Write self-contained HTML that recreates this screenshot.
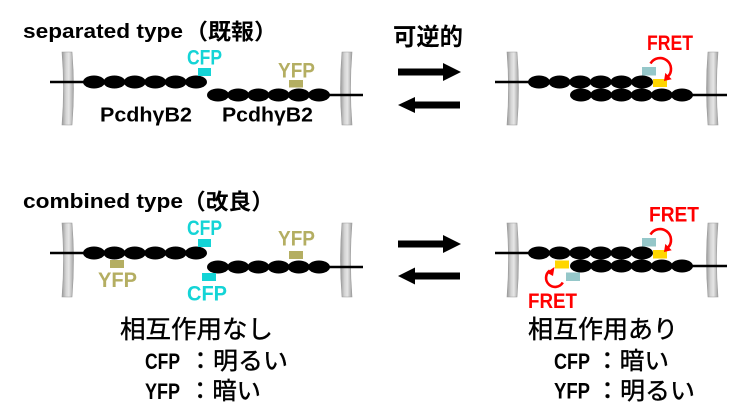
<!DOCTYPE html>
<html><head><meta charset="utf-8">
<style>html,body{margin:0;padding:0;background:#fff;}svg{display:block}</style></head>
<body>
<svg width="751" height="417" viewBox="0 0 751 417" xmlns="http://www.w3.org/2000/svg">
<defs>
<linearGradient id="wg" x1="0" x2="1" y1="0" y2="0">
<stop offset="0" stop-color="#9a9a9a"/>
<stop offset="0.35" stop-color="#d4d4d4"/>
<stop offset="0.6" stop-color="#e6e6e6"/>
<stop offset="1" stop-color="#a2a2a2"/>
</linearGradient>
</defs>
<rect width="751" height="417" fill="#fff"/>

<!-- Titles -->
<g font-family="'Liberation Sans', sans-serif" font-weight="bold" fill="#000">
<text x="23" y="38" font-size="20" textLength="160" lengthAdjust="spacingAndGlyphs">separated type</text>
<text x="23" y="208" font-size="20" textLength="160" lengthAdjust="spacingAndGlyphs">combined type</text>
</g>
<g font-family="'Liberation Sans','Noto Sans CJK JP', sans-serif" font-weight="bold" fill="#000">
<text x="185" y="39.5" font-size="22" textLength="92" lengthAdjust="spacingAndGlyphs">（既報）</text>
<text x="183" y="209.5" font-size="22" textLength="91" lengthAdjust="spacingAndGlyphs">（改良）</text>
<text x="393" y="45" font-size="24" textLength="70" lengthAdjust="spacingAndGlyphs">可逆的</text>
</g>

<!-- Walls -->
<g fill="url(#wg)" stroke="#9a9a9a" stroke-width="0.6">
<path d="M62,52 Q65,88 62,125 L72,125 Q75,88 72,52 Z"/>
<path d="M342,52 Q339,88 342,125 L352,125 Q349,88 352,52 Z"/>
<path d="M507,52 Q510,88 507,125 L517,125 Q520,88 517,52 Z"/>
<path d="M708,52 Q705,88 708,125 L718,125 Q715,88 718,52 Z"/>
<path d="M62,223 Q65,260 62,297 L72,297 Q75,260 72,223 Z"/>
<path d="M342,223 Q339,260 342,297 L352,297 Q349,260 352,223 Z"/>
<path d="M507,223 Q510,260 507,297 L517,297 Q520,260 517,223 Z"/>
<path d="M708,223 Q705,260 708,297 L718,297 Q715,260 718,223 Z"/>
</g>

<!-- Lines -->
<g stroke="#000" stroke-width="2.5">
<line x1="50" y1="82" x2="94" y2="82"/>
<line x1="319" y1="95" x2="363" y2="95"/>
<line x1="50" y1="253" x2="94" y2="253"/>
<line x1="319" y1="267" x2="363" y2="267"/>
<line x1="495" y1="82" x2="539" y2="82"/>
<line x1="682" y1="95" x2="727" y2="95"/>
<line x1="495" y1="253" x2="539" y2="253"/>
<line x1="682" y1="266" x2="727" y2="266"/>
</g>

<!-- Ellipses -->
<g fill="#000">
<ellipse cx="94" cy="82" rx="11" ry="6.5"/><ellipse cx="114.4" cy="82" rx="11" ry="6.5"/><ellipse cx="134.8" cy="82" rx="11" ry="6.5"/><ellipse cx="155.2" cy="82" rx="11" ry="6.5"/><ellipse cx="175.6" cy="82" rx="11" ry="6.5"/><ellipse cx="196" cy="82" rx="11" ry="6.5"/>
<ellipse cx="218" cy="95" rx="11" ry="6.5"/><ellipse cx="238.2" cy="95" rx="11" ry="6.5"/><ellipse cx="258.4" cy="95" rx="11" ry="6.5"/><ellipse cx="278.6" cy="95" rx="11" ry="6.5"/><ellipse cx="298.8" cy="95" rx="11" ry="6.5"/><ellipse cx="319" cy="95" rx="11" ry="6.5"/>
<ellipse cx="94" cy="253" rx="11" ry="6.5"/><ellipse cx="114.4" cy="253" rx="11" ry="6.5"/><ellipse cx="134.8" cy="253" rx="11" ry="6.5"/><ellipse cx="155.2" cy="253" rx="11" ry="6.5"/><ellipse cx="175.6" cy="253" rx="11" ry="6.5"/><ellipse cx="196" cy="253" rx="11" ry="6.5"/>
<ellipse cx="218" cy="267" rx="11" ry="6.5"/><ellipse cx="238.2" cy="267" rx="11" ry="6.5"/><ellipse cx="258.4" cy="267" rx="11" ry="6.5"/><ellipse cx="278.6" cy="267" rx="11" ry="6.5"/><ellipse cx="298.8" cy="267" rx="11" ry="6.5"/><ellipse cx="319" cy="267" rx="11" ry="6.5"/>
<ellipse cx="539" cy="82" rx="11" ry="6.5"/><ellipse cx="559.6" cy="82" rx="11" ry="6.5"/><ellipse cx="580.2" cy="82" rx="11" ry="6.5"/><ellipse cx="600.8" cy="82" rx="11" ry="6.5"/><ellipse cx="621.4" cy="82" rx="11" ry="6.5"/><ellipse cx="642" cy="82" rx="11" ry="6.5"/>
<ellipse cx="581" cy="95" rx="11" ry="6.5"/><ellipse cx="601.2" cy="95" rx="11" ry="6.5"/><ellipse cx="621.4" cy="95" rx="11" ry="6.5"/><ellipse cx="641.6" cy="95" rx="11" ry="6.5"/><ellipse cx="661.8" cy="95" rx="11" ry="6.5"/><ellipse cx="682" cy="95" rx="11" ry="6.5"/>
<ellipse cx="539" cy="253" rx="11" ry="6.5"/><ellipse cx="559.6" cy="253" rx="11" ry="6.5"/><ellipse cx="580.2" cy="253" rx="11" ry="6.5"/><ellipse cx="600.8" cy="253" rx="11" ry="6.5"/><ellipse cx="621.4" cy="253" rx="11" ry="6.5"/><ellipse cx="642" cy="253" rx="11" ry="6.5"/>
<ellipse cx="581" cy="266" rx="11" ry="6.5"/><ellipse cx="601.2" cy="266" rx="11" ry="6.5"/><ellipse cx="621.4" cy="266" rx="11" ry="6.5"/><ellipse cx="641.6" cy="266" rx="11" ry="6.5"/><ellipse cx="661.8" cy="266" rx="11" ry="6.5"/><ellipse cx="682" cy="266" rx="11" ry="6.5"/>
</g>

<!-- Fluorescent tags -->
<rect x="198" y="68" width="13" height="8" fill="#14d4d6"/>
<rect x="289" y="80" width="14" height="7.5" fill="#b4ae62"/>
<rect x="198" y="239" width="13" height="8" fill="#14d4d6"/>
<rect x="289" y="251" width="14" height="8" fill="#b4ae62"/>
<rect x="110" y="260" width="14" height="8" fill="#b4ae62"/>
<rect x="202" y="273" width="14" height="8" fill="#14d4d6"/>

<rect x="642" y="67" width="14" height="8.5" fill="#95c7c9"/>
<rect x="653" y="79" width="14" height="8" fill="#ffd600"/>
<rect x="642" y="238" width="14" height="8.5" fill="#95c7c9"/>
<rect x="653" y="250" width="14" height="8.5" fill="#ffd600"/>
<rect x="555" y="260.5" width="14" height="8" fill="#ffd600"/>
<rect x="566" y="272.5" width="14" height="8.5" fill="#95c7c9"/>

<!-- Labels -->
<g font-family="'Liberation Sans', sans-serif" font-weight="bold">
<text x="187" y="64.5" font-size="21" fill="#14d4d6" textLength="35" lengthAdjust="spacingAndGlyphs">CFP</text>
<text x="278" y="77.5" font-size="21" fill="#b4ae62" textLength="37" lengthAdjust="spacingAndGlyphs">YFP</text>
<text x="100" y="121.5" font-size="20" fill="#000" textLength="92" lengthAdjust="spacingAndGlyphs">PcdhγB2</text>
<text x="222" y="121.5" font-size="20" fill="#000" textLength="91" lengthAdjust="spacingAndGlyphs">PcdhγB2</text>

<text x="187" y="235" font-size="21" fill="#14d4d6" textLength="35" lengthAdjust="spacingAndGlyphs">CFP</text>
<text x="278" y="245.5" font-size="21" fill="#b4ae62" textLength="37" lengthAdjust="spacingAndGlyphs">YFP</text>
<text x="98" y="287" font-size="21" fill="#b4ae62" textLength="39" lengthAdjust="spacingAndGlyphs">YFP</text>
<text x="187" y="300.5" font-size="21" fill="#14d4d6" textLength="40" lengthAdjust="spacingAndGlyphs">CFP</text>

<text x="647" y="50" font-size="21" fill="#ff0000" textLength="46" lengthAdjust="spacingAndGlyphs">FRET</text>
<text x="649" y="221.5" font-size="21" fill="#ff0000" textLength="50" lengthAdjust="spacingAndGlyphs">FRET</text>
<text x="528" y="308" font-size="21" fill="#ff0000" textLength="49" lengthAdjust="spacingAndGlyphs">FRET</text>
</g>

<!-- Reversible arrows -->
<g fill="#000">
<polygon points="398,68.5 443,68.5 443,63 461,72 443,81 443,75.5 398,75.5"/>
<polygon points="398,105 415,97 415,101.5 460,101.5 460,108.5 415,108.5 415,113"/>
<polygon points="398,240.5 443,240.5 443,235 461,244 443,253 443,247.5 398,247.5"/>
<polygon points="398,276 415,267.5 415,272.5 460,272.5 460,279.5 415,279.5 415,284.5"/>
</g>

<!-- FRET curved arrows -->
<g stroke="#ff0000" stroke-width="2.6" fill="none">
<path d="M650.5,63.5 A11,11 0 1 1 667.8,76.8"/>
<path d="M650.5,234.5 A11,11 0 1 1 667.8,247.8"/>
<path d="M562.8,282.5 A9,9 0 1 1 549.8,270.6"/>
</g>
<g fill="#ff0000">
<polygon points="664,81 671.7,79.3 665.3,72.9"/>
<polygon points="664,252 671.7,250.3 665.3,243.9"/>
<polygon points="554.5,267 546.5,272.5 553,276"/>
</g>

<!-- Bottom descriptions -->
<g font-family="'Liberation Sans','Noto Sans CJK JP', sans-serif" fill="#000" stroke="#000" stroke-width="0.4">
<text x="120" y="338" font-size="25" textLength="153" lengthAdjust="spacingAndGlyphs">相互作用なし</text>
<text x="528" y="338" font-size="25" textLength="150" lengthAdjust="spacingAndGlyphs">相互作用あり</text>
<text x="188" y="369" font-size="24" textLength="100" lengthAdjust="spacingAndGlyphs">：明るい</text>
<text x="188" y="399" font-size="24" textLength="73" lengthAdjust="spacingAndGlyphs">：暗い</text>
<text x="595" y="369" font-size="24" textLength="74" lengthAdjust="spacingAndGlyphs">：暗い</text>
<text x="595" y="399" font-size="24" textLength="100" lengthAdjust="spacingAndGlyphs">：明るい</text>
</g>
<g font-family="'Liberation Sans', sans-serif" font-weight="bold" fill="#000">
<text x="145" y="369" font-size="22.5" textLength="35" lengthAdjust="spacingAndGlyphs">CFP</text>
<text x="145" y="399" font-size="22.5" textLength="35" lengthAdjust="spacingAndGlyphs">YFP</text>
<text x="554" y="369" font-size="22.5" textLength="36" lengthAdjust="spacingAndGlyphs">CFP</text>
<text x="554" y="398.5" font-size="22.5" textLength="36" lengthAdjust="spacingAndGlyphs">YFP</text>
</g>
</svg>
</body></html>
